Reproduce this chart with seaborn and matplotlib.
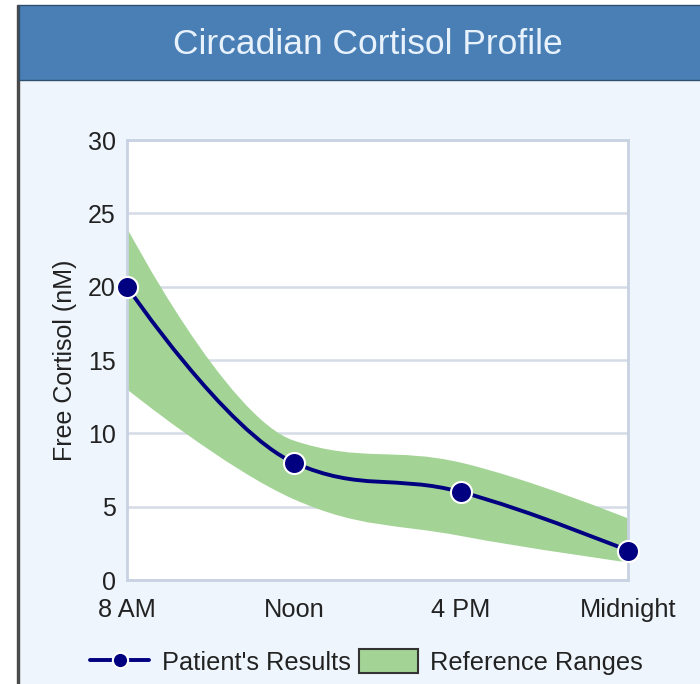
import matplotlib
matplotlib.use("Agg")
import matplotlib.pyplot as plt
import seaborn as sns
import pandas as pd
from matplotlib.path import Path
from matplotlib.patches import PathPatch, Rectangle
from matplotlib.lines import Line2D

# dados
horarios = ["8 AM", "Noon", "4 PM", "Midnight"]
paciente = [20, 8, 6, 2]
ref_max = [24, 9.5, 8, 4.2]
ref_min = [13, 5.5, 3, 1.2]
y_ticks = [0, 5, 10, 15, 20, 25, 30]

df = pd.DataFrame({"pos": range(len(horarios)), "horario": horarios, "cortisol": paciente})

COR_LINHA = "#000080"
COR_FAIXA = "#a3d496"
COR_EIXO = "#c8d2e2"


def spline(xs, ys):
    # curva suave no estilo "spline" (controle de bezier a partir dos pontos)
    suav, den = 1.5, 2.5
    n = len(xs)
    esq = [None] * n
    dir_ = [None] * n
    for i in range(1, n - 1):
        px, py = xs[i], ys[i]
        lx, ly = xs[i - 1], ys[i - 1]
        nx, ny = xs[i + 1], ys[i + 1]
        lcx, lcy = (suav * px + lx) / den, (suav * py + ly) / den
        rcx, rcy = (suav * px + nx) / den, (suav * py + ny) / den
        corr = ((rcy - lcy) * (rcx - px)) / (rcx - lcx) + py - rcy
        lcy += corr
        rcy += corr
        if lcy > ly and lcy > py:
            lcy = max(ly, py); rcy = 2 * py - lcy
        elif lcy < ly and lcy < py:
            lcy = min(ly, py); rcy = 2 * py - lcy
        if rcy > ny and rcy > py:
            rcy = max(ny, py); lcy = 2 * py - rcy
        elif rcy < ny and rcy < py:
            rcy = min(ny, py); lcy = 2 * py - rcy
        esq[i] = (lcx, lcy)
        dir_[i] = (rcx, rcy)
    verts = [(xs[0], ys[0])]
    codes = [Path.MOVETO]
    for i in range(1, n):
        c1 = dir_[i - 1] or (xs[i - 1], ys[i - 1])
        c2 = esq[i] or (xs[i], ys[i])
        verts += [c1, c2, (xs[i], ys[i])]
        codes += [Path.CURVE4] * 3
    return verts, codes


sns.set_theme(style="white")
plt.rcParams["font.family"] = ["Liberation Sans", "DejaVu Sans"]

fig = plt.figure(figsize=(7, 6.84), dpi=100, facecolor="#eef5fd")

# moldura / cabeçalho
fig.patches.append(Rectangle((0, 0), 17 / 700, 1, transform=fig.transFigure, color="white", zorder=0))
fig.patches.append(Rectangle((0, 1 - 5 / 684), 1, 5 / 684, transform=fig.transFigure, color="white", zorder=0))
fig.patches.append(Rectangle((17 / 700, 0), 2 / 700, 1 - 5 / 684, transform=fig.transFigure, color="#4a4a4a", zorder=1))
fig.patches.append(Rectangle((19 / 700, 1 - 80 / 684), 1, 75 / 684, transform=fig.transFigure,
                             facecolor="#4a7fb5", edgecolor="#2f4f6e", linewidth=1, zorder=1))
fig.text(0.526, 1 - 44 / 684, "Circadian Cortisol Profile", ha="center", va="center",
         fontsize=25.5, color="#e8f2fc")

ax = fig.add_axes([127 / 700, 1 - 580 / 684, 501 / 700, 440 / 684])
ax.set_facecolor("white")

x = list(df["pos"])
v_sup, c_sup = spline(x, ref_max)
v_inf, c_inf = spline(x, ref_min)
verts = v_sup + v_inf[::-1] + [v_sup[0]]
codes = c_sup + [Path.LINETO] + c_inf[1:] + [Path.CLOSEPOLY]
ax.add_patch(PathPatch(Path(verts, codes), facecolor=COR_FAIXA, edgecolor="none", zorder=2))

v_lin, c_lin = spline(x, paciente)
ax.add_patch(PathPatch(Path(v_lin, c_lin), facecolor="none", edgecolor=COR_LINHA, linewidth=2.8, zorder=3))

sns.scatterplot(data=df, x="pos", y="cortisol", ax=ax, s=230, color=COR_LINHA,
                edgecolor="white", linewidth=1.5, zorder=4, clip_on=False, legend=False)

ax.set_xlim(0, 3)
ax.set_ylim(0, 30)
ax.set_xticks(x)
ax.set_xticklabels(horarios)
ax.set_yticks(y_ticks)
ax.set_xlabel("")
ax.set_ylabel("Free Cortisol (nM)", fontsize=18, color="#222222", labelpad=8)
ax.yaxis.grid(True, color="#d5dce7", linewidth=1.8)
ax.set_axisbelow(True)
for s in ax.spines.values():
    s.set_color(COR_EIXO)
    s.set_linewidth(2)
ax.tick_params(axis="x", length=10, width=2, color=COR_EIXO, labelsize=18.3, labelcolor="#222222", pad=3)
ax.tick_params(axis="y", length=0, labelsize=18, labelcolor="#222222", pad=8)

# legenda embaixo
h_linha = Line2D([], [], color=COR_LINHA, linewidth=2.8, marker="o", markersize=11,
                 markerfacecolor=COR_LINHA, markeredgecolor="white", markeredgewidth=1.5)
h_faixa = Rectangle((0, 0), 1, 1, facecolor=COR_FAIXA, edgecolor="#333333", linewidth=1.5)
fig.legend([h_linha, h_faixa], ["Patient's Results", "Reference Ranges"], loc="center",
           bbox_to_anchor=(0.524, 1 - 662 / 684), ncol=2, frameon=False, fontsize=18.3,
           handlelength=2.3, handleheight=1.1, handletextpad=0.5, columnspacing=0.35,
           labelcolor="#222222")

plt.savefig("out.png", dpi=100, facecolor=fig.get_facecolor())
